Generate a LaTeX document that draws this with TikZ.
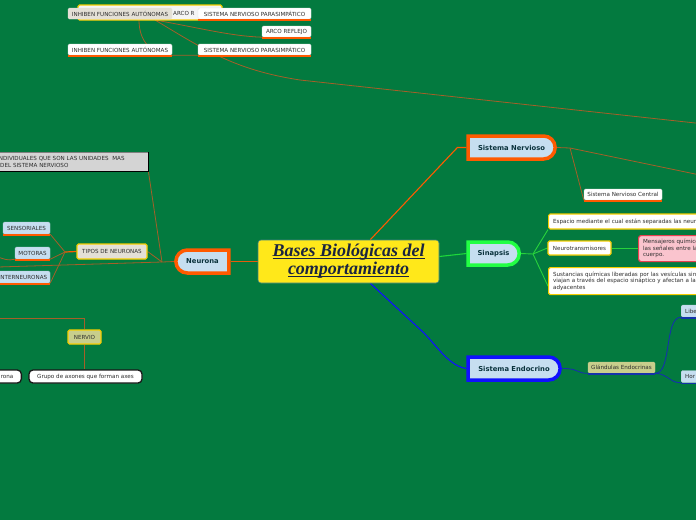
\documentclass[tikz,border=0pt]{standalone}
\usepackage{fontspec}
\setmainfont{DejaVu Sans}
\newfontfamily\titlefont{Liberation Serif}
\usetikzlibrary{shapes.misc}
\definecolor{bg}{RGB}{3,122,63}
\definecolor{orng}{RGB}{255,90,0}
\definecolor{brn}{RGB}{165,95,40}
\definecolor{lblue}{RGB}{198,222,240}
\definecolor{ttl}{RGB}{255,232,26}
\definecolor{ttlb}{RGB}{60,130,130}
\definecolor{grn}{RGB}{34,255,68}
\definecolor{glin}{RGB}{40,210,60}
\definecolor{bblue}{RGB}{16,16,255}
\definecolor{blin}{RGB}{20,50,170}
\definecolor{olivef}{RGB}{200,206,140}
\definecolor{ybord}{RGB}{245,205,0}
\definecolor{pinkf}{RGB}{250,196,206}
\definecolor{redb}{RGB}{232,64,80}
\definecolor{txt}{RGB}{45,45,45}
\definecolor{dteal}{RGB}{10,50,60}
\definecolor{beige}{RGB}{228,224,214}
\definecolor{grayf}{RGB}{212,212,212}
\definecolor{titletext}{RGB}{26,36,64}
\newcommand\ulx[1]{\setbox0\hbox{#1}\rlap{\rule[-2.6pt]{\wd0}{1.2pt}}\box0}
\pgfdeclarelayer{back}
\pgfsetlayers{back,main}
\tikzset{
  smallbox/.style={draw=white!80!gray, fill=white, rounded corners=1.5pt, inner sep=0pt,
    font=\fontsize{5.6}{6.6}\selectfont, text=txt, line width=0.4pt},
  lbluebox/.style={smallbox, fill=lblue, draw=lblue!80!gray},
  ybox/.style={smallbox, draw=ybord, line width=1.2pt},
  blackbox/.style={smallbox, draw=black!90, line width=1.3pt, rounded corners=4pt},
  mainnode/.style={rounded rectangle, line width=3.5pt, fill=lblue, inner sep=0pt,
    minimum height=23pt, font=\fontsize{6.8}{8}\selectfont\bfseries, text=dteal},
  titlenode/.style={draw=ttlb, line width=0.6pt, fill=ttl, rounded corners=3pt, align=center,
    font=\titlefont\bfseries\itshape\fontsize{18}{18}\selectfont, text=titletext,
    minimum width=181pt, minimum height=43pt, inner sep=0pt},
  ulo/.style={draw=orng, line width=1.6pt},
  ulb/.style={draw=blin, line width=1.4pt},
  bline/.style={draw=brn, line width=0.8pt},
  gline/.style={draw=glin, line width=0.9pt},
  blline/.style={draw=blin, line width=0.9pt},
}
\begin{document}
\begin{tikzpicture}[x=1pt,y=-1pt]
\useasboundingbox (0,0) rectangle (696,520);
\clip (0,0) rectangle (696,520);
\begin{pgfonlayer}{back}
\fill[bg] (0,0) rectangle (696,520);
\end{pgfonlayer}

% ---------- central and main nodes ----------
\node[titlenode] (c) at (348.5,261.5) {\ulx{Bases Biológicas del}\\\ulx{comportamiento}};
\node[mainnode, draw=orng, rounded rectangle right arc=none, minimum width=53pt] (ne) at (202.5,261.5) {Neurona};
\node[mainnode, draw=orng, rounded rectangle left arc=none, minimum width=87pt] (sn) at (511.5,147.5) {Sistema Nervioso};
\node[mainnode, draw=grn, rounded rectangle left arc=none, minimum width=51pt] (sp) at (493.5,253.5) {Sinapsis};
\node[mainnode, draw=bblue, rounded rectangle left arc=none, minimum width=92pt] (se) at (514,368.5) {Sistema Endocrino};

% ---------- top cluster ----------
\node[smallbox, draw=ybord, line width=1.2pt, fill=white!92!gray, minimum width=144pt, minimum height=15pt] (yb) at (150,12.5) {};
\node[font=\fontsize{5.6}{6.6}\selectfont, text=txt, inner sep=0pt, anchor=west] (ybt) at (173,13.5) {ARCO R};
\node[smallbox, fill=beige, draw=beige, minimum width=104pt, minimum height=11pt] (inh1) at (120,13.5) {INHIBEN FUNCIONES AUTÓNOMAS};
\node[smallbox, minimum width=113pt, minimum height=11pt] (snp1) at (254.5,13.5) {SISTEMA NERVIOSO PARASIMPÁTICO};
\node[smallbox, minimum width=49pt, minimum height=11pt] (arco) at (286.5,31.5) {ARCO REFLEJO};
\node[smallbox, minimum width=104pt, minimum height=11pt] (inh2) at (120,49.5) {INHIBEN FUNCIONES AUTÓNOMAS};
\node[smallbox, minimum width=113pt, minimum height=11pt] (snp2) at (254.5,49.5) {SISTEMA NERVIOSO PARASIMPÁTICO};
\foreach \n in {snp1,arco,inh2,snp2}{
  \draw[ulo] ([yshift=-0.6pt]\n.south west) -- ([yshift=-0.6pt]\n.south east);
}
\coordinate (th1) at (139,20);
\coordinate (th2) at (155,20);
\coordinate (far1) at (700,123.5);
\begin{pgfonlayer}{back}
\draw[bline] (th1) .. controls (139,42) and (152,55) .. (inh2.south east) -- (snp2.south west);
\draw[bline] (th2) .. controls (200,28) and (230,36) .. (arco.south west);
\draw[bline] (th2) .. controls (205,50) and (235,70) .. (300,80) -- (far1);
\end{pgfonlayer}

% ---------- neurona subtree ----------
\node[smallbox, fill=grayf, draw=gray, anchor=north west, text width=146pt, align=left,
  inner xsep=2pt, inner ysep=2.5pt, minimum height=19pt, rounded corners=0pt] (gray) at (-2,152)
  {\hspace*{-3pt}INDIVIDUALES QUE SON LAS UNIDADES\ \ MAS\\DEL SISTEMA NERVIOSO};
\draw[black, line width=1pt] (gray.south west) -- (gray.south east) -- (gray.north east);
\node[ybox, fill=beige, minimum width=70pt, minimum height=15pt] (tipos) at (112,251.5) {TIPOS DE NEURONAS};
\node[lbluebox, minimum width=47pt, minimum height=12pt] (sens) at (26.5,228) {SENSORIALES};
\node[lbluebox, minimum width=35pt, minimum height=12pt] (mot) at (32.5,253) {MOTORAS};
\node[lbluebox, minimum width=54pt, minimum height=12pt] (intn) at (23,277) {INTERNEURONAS};
\foreach \n in {sens,mot,intn}{
  \draw[ulo] ([yshift=-0.6pt]\n.south west) -- ([yshift=-0.6pt]\n.south east);
}
\coordinate (nh) at (162,262);
\coordinate (th) at (65,252);
\coordinate (farl) at (-2,267);
\coordinate (farm) at (-2,257);
\begin{pgfonlayer}{back}
\draw[draw=orng!70!brn, line width=1.1pt] (c.west) -- (ne.east);
\draw[bline] (ne.west) -- (nh);
\draw[bline] (nh) -- (gray.south east);
\draw[bline] (nh) -- (tipos.east);
\draw[bline] (nh) -- (farl);
\draw[orng, line width=1.2pt] (tipos.west) -- (th);
\draw[bline] (th) -- (sens.south east);
\draw[bline] (th) -- (mot.south east);
\draw[bline] (th) -- (intn.south east);
\draw[bline] (mot.south west) .. controls (8,261) and (4,259) .. (farm);
\end{pgfonlayer}

% ---------- nervio ----------
\node[ybox, fill=olivef, minimum width=33pt, minimum height=14pt] (nervio) at (84.5,337) {NERVIO};
\node[blackbox, minimum width=113pt, minimum height=13pt] (grupo) at (85.5,376.5) {Grupo de axones que forman axes};
\node[blackbox, anchor=east, text width=30pt, align=right, inner xsep=8pt, minimum height=13pt] (rona) at (22,376.5) {rona};
\coordinate (nv1) at (-2,318);
\coordinate (nv2) at (84.5,318);
\begin{pgfonlayer}{back}
\draw[bline] (nv1) -- (nv2) -- (nervio.north);
\draw[bline] (nervio.south) -- (nervio.south |- grupo.north);
\end{pgfonlayer}

% ---------- sistema nervioso ----------
\node[smallbox, minimum width=78pt, minimum height=11pt] (snc) at (623,194.5) {Sistema Nervioso Central};
\draw[ulo] ([yshift=-0.6pt]snc.south west) -- ([yshift=-0.6pt]snc.south east);
\coordinate (snh) at (570,148);
\coordinate (far2) at (700,175);
\begin{pgfonlayer}{back}
\draw[orng, line width=1.1pt] (c.45) -- ([xshift=-9pt]sn.west) -- (sn.west);
\draw[bline] (sn.east) -- (snh);
\draw[bline] (snh) -- (far2);
\draw[bline] (snh) -- (snc.south west);
\end{pgfonlayer}

% ---------- sinapsis ----------
\node[ybox, anchor=west, text width=160pt, align=left, inner xsep=4.5pt, minimum height=15pt] (esp) at (548,221.5)
  {Espacio mediante el cual están separadas las neuro};
\node[ybox, minimum width=63pt, minimum height=14pt] (nt) at (579.5,248) {Neurotransmisores};
\node[ybox, anchor=north west, text width=160pt, align=left, inner xsep=4.5pt, inner ysep=3pt, minimum height=27pt] (sus) at (548,267)
  {Sustancias químicas liberadas por las vesículas siná\\viajan a través del espacio sináptico y afectan a las\\adyacentes};
\node[smallbox, fill=pinkf, draw=redb, line width=1.2pt, rounded corners=2.5pt, anchor=north west, text width=80pt, align=left,
  inner xsep=4.5pt, inner ysep=3pt, minimum height=26pt] (men) at (638,235)
  {Mensajeros químico\\las señales entre la\\cuerpo.};
\coordinate (sph) at (533,254);
\begin{pgfonlayer}{back}
\draw[draw=grn!85!black, line width=1.1pt] ([yshift=5pt]c.east) -- (sp.west);
\draw[gline] (sp.east) -- (sph);
\draw[gline] (sph) -- (esp.south west);
\draw[gline] (sph) -- (nt.west);
\draw[gline] (sph) -- ([yshift=-5pt]sus.west);
\draw[gline] (nt.east) -- (men.west |- nt.east);
\end{pgfonlayer}

% ---------- sistema endocrino ----------
\node[smallbox, fill=olivef, draw=olivef, minimum width=67pt, minimum height=11pt] (gl) at (621.5,367.5) {Glándulas Endocrinas};
\node[lbluebox, anchor=west, text width=30pt, align=left, inner xsep=4pt, minimum height=12pt] (libe) at (681,311) {Libe};
\node[lbluebox, anchor=west, text width=30pt, align=left, inner xsep=4pt, minimum height=12pt] (hor) at (681,376.5) {Hor};
\foreach \n in {gl,libe,hor}{
  \draw[ulb] ([yshift=-0.6pt]\n.south west) -- ([yshift=-0.6pt]\n.south east);
}
\begin{pgfonlayer}{back}
\draw[draw=bblue, line width=1.1pt] (c.-45) -- (424,333) .. controls (440,350) and (450,366) .. (se.west);
\draw[blline] (se.east) .. controls (578,368) and (578,374) .. (gl.south west);
\draw[blline] (gl.south east) .. controls (672,374) and (664,317) .. (libe.south west);
\draw[blline] (gl.south east) .. controls (668,374) and (670,383) .. (hor.south west);
\end{pgfonlayer}
\end{tikzpicture}
\end{document}
